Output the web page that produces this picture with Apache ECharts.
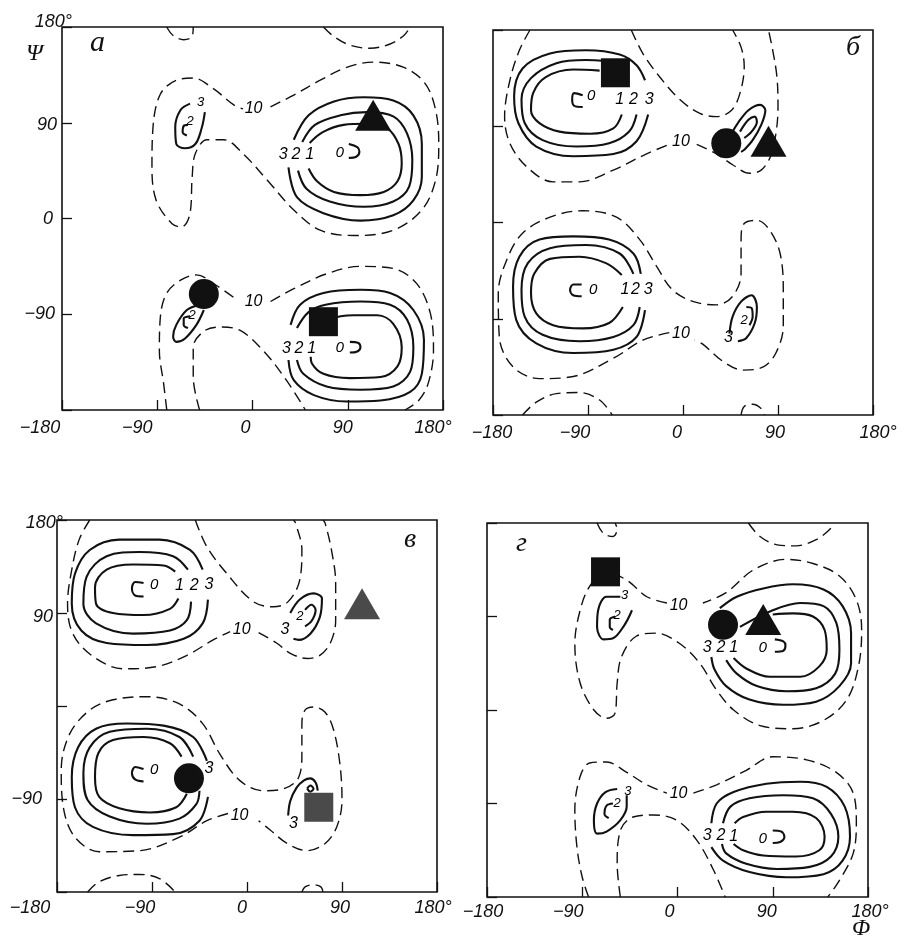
<!DOCTYPE html>
<html><head><meta charset="utf-8">
<script src="https://cdn.jsdelivr.net/npm/echarts@6/dist/echarts.min.js"></script>
<style>html,body{margin:0;padding:0;background:#fff}#c{width:902px;height:951px}</style>
</head><body><div id="c"></div><script>
// ---------- Tick labels ----------
const xTicks = [-180, -90, 0, 90, 180];
const xTickText = ['−180', '−90', '0', '90', '180°'];
const yTickText = ['−180', '−90', '0', '90', '180°'];

// ---------- Panel а ----------
const A_up_c1 = [[54,71],[66,81],[86,88],[108,89],[127,85],[138,70],[141,52],[137,35],[124,25],[102,22],[77,25],[61,35],[53,47]];
const A_up_c2 = [[47,72],[59,88],[83,97],[108,100],[133,96],[146,80],[151,55],[148,30],[133,16],[105,11],[73,16],[51,28],[43,45]];
const A_up_c3 = [[39,74],[53,97],[77,110],[105,114],[133,111],[152,97],[160,70],[160,39],[152,17],[133,3],[102,-2],[67,5],[42,20],[34,48]];
const A_up_c0 = [[91,70],[99,67],[101,63],[98,58],[91,57]];
const A_up_10 = [[17,105],[39,116],[64,130],[89,142],[114,147],[143,142],[163,127],[173,102],[176,70],[173,36],[160,8],[133,-11],[96,-16],[64,-11],[39,8],[14,36],[-9,61],[-27,74],[-43,74],[-54,61],[-57,39],[-59,5],[-67,-8],[-76,-5],[-91,17],[-95,49],[-94,86],[-87,117],[-72,130],[-56,132],[-37,122],[-18,107],[-9,103]];
const A_ul_3 = [[-59,108],[-68,102],[-73,86],[-72,70],[-64,66],[-54,70],[-48,85],[-45,100]];
const A_ul_2 = [[-61,88],[-65,87],[-66,81],[-62,78]];
const A_top1 = [[-81,180],[-75,172],[-65,168],[-57,171],[-56,180]];
const A_top2 = [[67,180],[77,171],[92,163],[111,160],[130,164],[143,172],[149,180]];
const A_lo_c3 = [[36,-100],[45,-81],[67,-70],[102,-67],[130,-70],[152,-86],[162,-114],[160,-146],[149,-163],[121,-171],[89,-172],[58,-166],[39,-152],[34,-133]];
const A_lo_c2 = [[42,-103],[53,-88],[69,-81],[102,-78],[130,-81],[146,-95],[152,-121],[149,-144],[133,-158],[102,-161],[70,-158],[48,-146],[42,-133]];
const A_lo_c1 = [[58,-108],[73,-95],[96,-91],[118,-91],[133,-99],[141,-121],[137,-139],[121,-149],[92,-150],[67,-146],[56,-136],[55,-130]];
const A_lo_c0 = [[92,-116],[100,-117],[102,-121],[99,-125],[92,-126]];
const A_lo_10a = [[-81,-180],[-84,-155],[-88,-124],[-87,-92],[-81,-70],[-68,-58],[-53,-53],[-34,-63],[-18,-74]];
const A_lo_10b = [[17,-78],[39,-66],[70,-52],[102,-45],[133,-47],[155,-61],[168,-89],[171,-124],[166,-155],[157,-171],[144,-180]];
const A_lo_10c = [[-50,-180],[-56,-149],[-56,-121],[-46,-106],[-31,-102],[-12,-105],[10,-124],[32,-152],[50,-180]];
const A_ll_3 = [[-50,-81],[-62,-86],[-72,-100],[-75,-111],[-72,-116],[-64,-113],[-53,-100],[-46,-86]];
const A_ll_2 = [[-59,-92],[-65,-94],[-65,-100],[-61,-103]];
const A_labels = [[29,60,'3'],[41,60,'2'],[54,60,'1'],[1,103,'10'],[32,-122,'3'],[44,-122,'2'],[56,-122,'1'],[1,-78,'10']];
const A_zero = [[83,63,'0'],[83,-120,'0']];
const A_small = [[-49,109,'3'],[-59,91,'2'],[-57,-91,'2']];
const A_circle = [[-46,-71]];
const A_square = [[67,-97]];
const A_triangle = [[114,97]];

// ---------- Panel б ----------
const B_ul_c1 = [[-79,142],[-104,143],[-130,136],[-142,121],[-144,105],[-136,93],[-117,85],[-88,83],[-66,88],[-58,101]];
const B_ul_c2 = [[-51,135],[-66,149],[-92,152],[-120,149],[-144,135],[-153,115],[-150,93],[-133,77],[-101,71],[-70,74],[-51,85],[-44,101]];
const B_ul_c3 = [[-36,133],[-44,147],[-60,157],[-92,161],[-126,158],[-152,144],[-160,118],[-156,93],[-139,71],[-104,62],[-66,64],[-44,76],[-33,101]];
const B_ul_c0 = [[-95,119],[-103,121],[-105,115],[-103,109],[-95,108]];
const B_up_10a = [[-145,180],[-155,161],[-164,133],[-169,99],[-164,74],[-148,52],[-123,38],[-98,38],[-66,49],[-35,64],[-13,73]];
const B_up_10b = [[13,73],[32,64],[47,54],[63,46],[74,49],[83,62],[88,83],[90,108],[89,136],[85,161],[81,180]];
const B_up_10c = [[-49,180],[-38,158],[-22,136],[-3,115],[16,102],[32,99],[46,105],[54,121],[58,146],[55,164],[47,180]];
const B_ur_3 = [[47,85],[52,93],[62,105],[73,110],[78,105],[74,91],[66,77],[58,68],[55,66]];
const B_ur_2 = [[54,85],[62,96],[68,99],[70,94],[65,85],[58,79]];
const B_lo_c1 = [[-58,-49],[-73,-38],[-98,-32],[-126,-34],[-141,-48],[-144,-66],[-139,-85],[-123,-96],[-95,-99],[-70,-94],[-57,-79]];
const B_lo_c2 = [[-47,-48],[-60,-29],[-92,-21],[-126,-24],[-147,-38],[-153,-63],[-150,-88],[-133,-105],[-98,-111],[-66,-107],[-47,-96],[-41,-79]];
const B_lo_c3 = [[-40,-48],[-47,-29],[-70,-16],[-104,-13],[-136,-16],[-155,-32],[-161,-60],[-158,-91],[-139,-113],[-104,-122],[-66,-119],[-44,-107],[-36,-82]];
const B_lo_c0 = [[-96,-58],[-104,-58],[-107,-63],[-104,-68],[-96,-69]];
const B_lo_10 = [[-13,-103],[-38,-110],[-66,-127],[-104,-144],[-136,-146],[-161,-135],[-174,-107],[-175,-66],[-167,-35],[-152,-10],[-126,5],[-95,11],[-63,5],[-41,-16],[-25,-41],[-10,-63],[10,-74],[32,-77],[47,-69],[55,-48],[55,-16],[58,-1],[70,2],[82,-7],[92,-29],[95,-63],[95,-97],[88,-122],[76,-135],[57,-138],[38,-130],[19,-114],[11,-110]];
const B_lr_3 = [[44,-104],[47,-88],[55,-74],[65,-68],[70,-79],[68,-94],[60,-108],[52,-111]];
const B_lr_2 = [[60,-79],[65,-80],[66,-88],[63,-96]];
const B_bot1 = [[-152,-180],[-139,-168],[-120,-160],[-98,-159],[-79,-166],[-67,-180]];
const B_bot2 = [[55,-180],[58,-172],[66,-170],[74,-174],[77,-180]];
const B_labels = [[-60,115,'1'],[-47,115,'2'],[-32,115,'3'],[-2,76,'10'],[-55,-63,'1'],[-45,-63,'2'],[-33,-63,'3'],[-2,-104,'10'],[43,-108,'3']];
const B_zero = [[-87,118,'0'],[-85,-63,'0']];
const B_small = [[58,-92,'2']];
const B_circle = [[41,74]];
const B_square = [[-64,140]];
const B_triangle = [[81,76]];

// ---------- Panel в ----------
const V_ul_c1 = [[-68,130],[-79,136],[-108,137],[-133,132],[-144,115],[-143,99],[-127,90],[-98,88],[-73,94],[-65,104]];
const V_ul_c2 = [[-56,132],[-70,145],[-102,149],[-133,145],[-152,125],[-155,99],[-143,80],[-108,70],[-73,73],[-57,83],[-53,101]];
const V_ul_c3 = [[-42,132],[-54,151],[-83,161],[-121,161],[-149,151],[-163,128],[-166,99],[-157,73],[-133,61],[-95,59],[-60,65],[-42,80],[-37,103]];
const V_ul_c0 = [[-98,119],[-106,120],[-109,114],[-106,107],[-98,106]];
const V_up_10a = [[-149,180],[-159,161],[-166,132],[-170,99],[-165,70],[-146,48],[-117,36],[-86,38],[-57,49],[-32,64],[-16,72]];
const V_up_10b = [[11,71],[28,61],[41,51],[57,46],[69,49],[79,61],[84,83],[84,119],[80,151],[74,177],[72,180]];
const V_up_10c = [[-49,180],[-38,154],[-19,128],[6,101],[25,96],[39,101],[50,122],[52,151],[46,177],[44,180]];
const V_ur_3 = [[41,90],[50,103],[63,109],[71,104],[69,86],[60,70],[49,64],[44,65]];
const V_ur_2 = [[55,93],[61,98],[65,93],[61,82],[55,77]];
const V_lo_c1 = [[-62,-49],[-73,-36],[-98,-30],[-127,-33],[-141,-46],[-144,-69],[-140,-88],[-121,-99],[-92,-103],[-67,-98],[-57,-85]];
const V_lo_c2 = [[-51,-49],[-64,-30],[-95,-22],[-130,-25],[-149,-40],[-155,-65],[-151,-91],[-130,-107],[-95,-114],[-64,-109],[-48,-95],[-45,-82]];
const V_lo_c3 = [[-38,-53],[-51,-30],[-79,-19],[-114,-17],[-143,-22],[-160,-40],[-166,-69],[-163,-98],[-146,-117],[-108,-125],[-70,-124],[-45,-111],[-37,-88]];
const V_lo_c0 = [[-98,-61],[-106,-59],[-109,-65],[-106,-71],[-98,-73]];
const V_lo_10 = [[-18,-104],[-38,-111],[-64,-127],[-102,-140],[-140,-141],[-163,-127],[-174,-98],[-176,-62],[-168,-27],[-149,-4],[-127,6],[-95,9],[-64,2],[-42,-17],[-26,-46],[-7,-72],[15,-82],[35,-80],[49,-69],[52,-46],[52,-17],[55,-4],[63,-1],[74,-6],[82,-23],[88,-56],[90,-91],[85,-117],[74,-133],[57,-140],[38,-133],[22,-120],[11,-111]];
const V_lr_3 = [[39,-106],[41,-92],[47,-79],[54,-72],[60,-70],[65,-74],[67,-82]];
const V_lr_2 = [[57,-80],[60,-77],[63,-80],[60,-83],[57,-80]];
const V_bot1 = [[-151,-180],[-140,-170],[-121,-164],[-102,-163],[-83,-167],[-68,-180]];
const V_bot2 = [[52,-180],[55,-175],[63,-173],[70,-175],[72,-180]];
const V_labels = [[-64,117,'1'],[-50,117,'2'],[-36,118,'3'],[-5,74,'10'],[36,74,'3'],[-36,-61,'3'],[-7,-106,'10'],[44,-114,'3']];
const V_zero = [[-88,117,'0'],[-88,-62,'0']];
const V_small = [[50,87,'2']];
const V_circle = [[-55,-70]];
const V_square = [[68,-98]];
const V_triangle = [[109,99]];

// ---------- Panel г ----------
const G_ur_c3 = [[40,98],[56,109],[81,117],[109,121],[138,116],[156,100],[164,74],[164,45],[153,23],[131,8],[100,5],[68,10],[46,23],[35,39],[32,51]];
const G_ur_c2 = [[59,80],[90,96],[116,103],[138,100],[150,84],[153,58],[149,35],[131,21],[103,18],[75,23],[56,35],[46,48]];
const G_ur_c1 = [[90,92],[109,93],[128,90],[139,77],[141,58],[134,42],[116,32],[87,32],[65,40],[53,50]];
const G_ur_c0 = [[92,68],[100,66],[102,62],[100,57],[92,56]];
const G_up_10 = [[-10,103],[-29,109],[-48,125],[-68,133],[-83,119],[-92,96],[-97,64],[-92,26],[-79,0],[-67,-8],[-59,-3],[-57,26],[-53,51],[-39,71],[-20,74],[2,64],[21,45],[37,19],[53,0],[78,-15],[109,-18],[138,-10],[160,10],[171,42],[174,77],[169,106],[153,129],[128,141],[103,145],[72,135],[46,113],[24,103]];
const G_ul_3 = [[-54,109],[-67,109],[-75,96],[-76,80],[-70,68],[-61,69],[-50,82],[-43,96]];
const G_ul_2 = [[-59,90],[-64,87],[-64,80],[-61,77]];
const G_top1 = [[-76,180],[-70,170],[-61,167],[-57,174],[-59,180]];
const G_top2 = [[67,180],[78,167],[94,159],[112,158],[131,164],[144,174],[147,180]];
const G_lr_c3 = [[32,-109],[37,-90],[53,-79],[84,-71],[116,-69],[141,-74],[158,-93],[163,-122],[156,-145],[138,-158],[103,-161],[68,-156],[43,-145],[32,-132]];
const G_lr_c2 = [[43,-109],[50,-93],[68,-85],[100,-82],[128,-85],[145,-100],[152,-122],[145,-141],[125,-151],[94,-153],[65,-148],[46,-138],[42,-129]];
const G_lr_c1 = [[54,-109],[62,-103],[84,-98],[109,-98],[131,-104],[139,-122],[134,-135],[112,-141],[81,-140],[62,-135],[53,-129]];
const G_lr_c0 = [[90,-116],[98,-117],[101,-122],[97,-127],[90,-128]];
const G_lo_10a = [[-84,-180],[-90,-161],[-95,-132],[-97,-96],[-92,-64],[-83,-51],[-67,-50],[-48,-60],[-29,-72],[-10,-80]];
const G_lo_10b = [[15,-80],[37,-72],[65,-58],[90,-45],[122,-48],[150,-60],[166,-80],[169,-109],[166,-138],[153,-164],[142,-180]];
const G_lo_10c = [[-54,-180],[-57,-148],[-54,-116],[-42,-103],[-23,-101],[-1,-106],[18,-125],[34,-154],[45,-180]];
const G_ll_3 = [[-57,-76],[-68,-79],[-76,-90],[-79,-106],[-76,-119],[-67,-117],[-54,-106],[-48,-93],[-48,-82]];
const G_ll_2 = [[-61,-90],[-67,-92],[-69,-100],[-65,-104]];
const G_labels = [[28,60,'3'],[41,60,'2'],[53,60,'1'],[1,101,'10'],[28,-121,'3'],[41,-121,'2'],[53,-122,'1'],[1,-80,'10']];
const G_zero = [[81,61,'0'],[81,-122,'0']];
const G_small = [[-50,110,'3'],[-57,91,'2'],[-47,-78,'3'],[-57,-90,'2']];
const G_circle = [[43,82]];
const G_square = [[-68,133]];
const G_triangle = [[81,87]];

// ---------- build ----------
const INK = '#111';
const SANS = 'Liberation Sans';
const SERIF = 'Liberation Serif';

const panels = [
  { grid:{left:62, top:27, width:381, height:383},
    solid:[A_up_c1,A_up_c2,A_up_c3,A_up_c0,A_ul_3,A_ul_2,A_lo_c1,A_lo_c2,A_lo_c3,A_lo_c0,A_ll_3,A_ll_2],
    dashed:[A_up_10,A_top1,A_top2,A_lo_10a,A_lo_10b,A_lo_10c],
    labels:A_labels, zero:A_zero, zeroRot:180, small:A_small,
    circle:A_circle, square:A_square, triangle:A_triangle, markColor:[INK,INK,INK],
    xOff:[[-22,0],[-20,0],[-7,0],[-5,0],[-10,0]], xMargin:9,
    yShow:true, yOff:[null,[17,0],[19,0],[15,2],[0,-5]], yMargin:-10 },
  { grid:{left:493, top:30, width:380, height:385},
    solid:[B_ul_c1,B_ul_c2,B_ul_c3,B_ul_c0,B_ur_3,B_ur_2,B_lo_c1,B_lo_c2,B_lo_c3,B_lo_c0,B_lr_3,B_lr_2],
    dashed:[B_up_10a,B_up_10b,B_up_10c,B_lo_10,B_bot1,B_bot2],
    labels:B_labels, zero:B_zero, zeroRot:0, small:B_small,
    circle:B_circle, square:B_square, triangle:B_triangle, markColor:[INK,INK,INK],
    xOff:[[-1,0],[-13,0],[-6,0],[-3,0],[5,0]], xMargin:9,
    yShow:false },
  { grid:{left:57, top:520, width:380, height:372},
    solid:[V_ul_c1,V_ul_c2,V_ul_c3,V_ul_c0,V_ur_3,V_ur_2,V_lo_c1,V_lo_c2,V_lo_c3,V_lo_c0,V_lr_3,V_lr_2],
    dashed:[V_up_10a,V_up_10b,V_up_10c,V_lo_10,V_bot1,V_bot2],
    labels:V_labels, zero:V_zero, zeroRot:0, small:V_small,
    circle:V_circle, square:V_square, triangle:V_triangle, markColor:[INK,'#4a4a4a','#4a4a4a'],
    xOff:[[-27,0],[-12,0],[-5,0],[-2,0],[-4,0]], xMargin:7,
    yShow:true, yOff:[null,[21,0],null,[10,4],[0,3]], yMargin:-6 },
  { grid:{left:487, top:523, width:381, height:374},
    solid:[G_ur_c1,G_ur_c2,G_ur_c3,G_ur_c0,G_ul_3,G_ul_2,G_lr_c1,G_lr_c2,G_lr_c3,G_lr_c0,G_ll_3,G_ll_2],
    dashed:[G_up_10,G_top1,G_top2,G_lo_10a,G_lo_10b,G_lo_10c],
    labels:G_labels, zero:G_zero, zeroRot:180, small:G_small,
    circle:G_circle, square:G_square, triangle:G_triangle, markColor:[INK,INK,INK],
    xOff:[[-4,0],[-14,0],[-8,0],[-6,0],[2,0]], xMargin:6,
    yShow:false }
];

function labStyle(pad){
  return {fontFamily:SANS, fontStyle:'italic', fontSize:18, color:INK, padding:pad};
}

const grids=[], xAxes=[], yAxes=[], series=[];
panels.forEach((p, gi) => {
  grids.push(Object.assign({show:true, borderColor:INK, borderWidth:1.6, backgroundColor:'transparent'}, p.grid));
  const xr = {};
  xTicks.forEach((v,i)=>{
    const [dx,dy] = p.xOff[i];
    xr['x'+i] = labStyle([dy>0?2*dy:0, dx<0?-2*dx:0, dy<0?-2*dy:0, dx>0?2*dx:0]);
  });
  xAxes.push({type:'value', gridIndex:gi, min:-180, max:180, interval:90,
    axisLine:{show:false, onZero:false}, splitLine:{show:false},
    axisTick:{show:true, inside:true, length:10, lineStyle:{color:INK, width:1.3}},
    axisLabel:{show:true, margin:p.xMargin, rich:xr,
      formatter:(v)=>{const i=xTicks.indexOf(v); return i<0?'':'{x'+i+'|'+xTickText[i]+'}';}}
  });
  const yr = {};
  if (p.yShow) xTicks.forEach((v,i)=>{
    const o = p.yOff[i]; if(!o) return;
    const [pr,dy] = o;
    yr['y'+i] = labStyle([dy>0?2*dy:0, pr, dy<0?-2*dy:0, 0]);
  });
  yAxes.push({type:'value', gridIndex:gi, min:-180, max:180, interval:90,
    axisLine:{show:false, onZero:false}, splitLine:{show:false},
    axisTick:{show:true, inside:true, length:10, lineStyle:{color:INK, width:1.3}},
    axisLabel:{show:p.yShow, margin:p.yMargin||0, rich:yr,
      formatter:(v)=>{const i=xTicks.indexOf(v); if(i<0||!p.yOff||!p.yOff[i]) return ''; return '{y'+i+'|'+yTickText[i]+'}';}}
  });
  const base = {type:'line', xAxisIndex:gi, yAxisIndex:gi, symbol:'none', smooth:0.35, silent:true, animation:false, clip:true, z:2};
  p.solid.forEach(d => series.push(Object.assign({}, base, {data:d, lineStyle:{color:INK, width:2.1}})));
  p.dashed.forEach(d => series.push(Object.assign({}, base, {data:d, lineStyle:{color:INK, width:1.4, type:[11,6]}})));
  const textSeries = (arr, size, rot) => ({type:'scatter', xAxisIndex:gi, yAxisIndex:gi, symbolSize:2,
    itemStyle:{color:'#fff', opacity:1}, silent:true, animation:false, z:4,
    data:arr.map(a=>({value:[a[0],a[1]], name:a[2]})),
    label:{show:true, position:[1,1], align:'center', verticalAlign:'middle', formatter:'{b}',
      fontFamily:SANS, fontStyle:'italic', fontSize:size, color:'#000', opacity:1, rotate:rot||0}});
  series.push(textSeries(p.labels, 16));
  series.push(textSeries(p.zero, 15, p.zeroRot));
  series.push(textSeries(p.small, 13));
  const mk = (arr, sym, size, col) => ({type:'scatter', xAxisIndex:gi, yAxisIndex:gi, symbol:sym, symbolSize:size,
    itemStyle:{color:col, opacity:1}, silent:true, animation:false, z:6, data:arr});
  series.push(mk(p.circle, 'circle', 30, p.markColor[0]));
  series.push(mk(p.square, 'rect', 29, p.markColor[2]));
  series.push(mk(p.triangle, 'triangle', [36,31], p.markColor[1]));
});

const letter = (t, x, y, size, font) => ({type:'text', left:x, top:y, style:{text:t, fontFamily:font||SERIF, fontStyle:'italic', fontSize:size, fill:INK}, silent:true});

const chart = echarts.init(document.getElementById('c'), null, {renderer:'canvas', width:902, height:951});
chart.setOption({
  animation:false,
  backgroundColor:'#fff',
  grid:grids, xAxis:xAxes, yAxis:yAxes, series:series,
  graphic:[
    letter('а', 90, 28, 30),
    letter('Ψ', 26, 42, 24),
    letter('б', 846, 34, 28),
    letter('в', 404, 526, 28),
    letter('г', 516, 530, 28),
    letter('Φ', 852, 917, 24)
  ]
});
</script></body></html>
